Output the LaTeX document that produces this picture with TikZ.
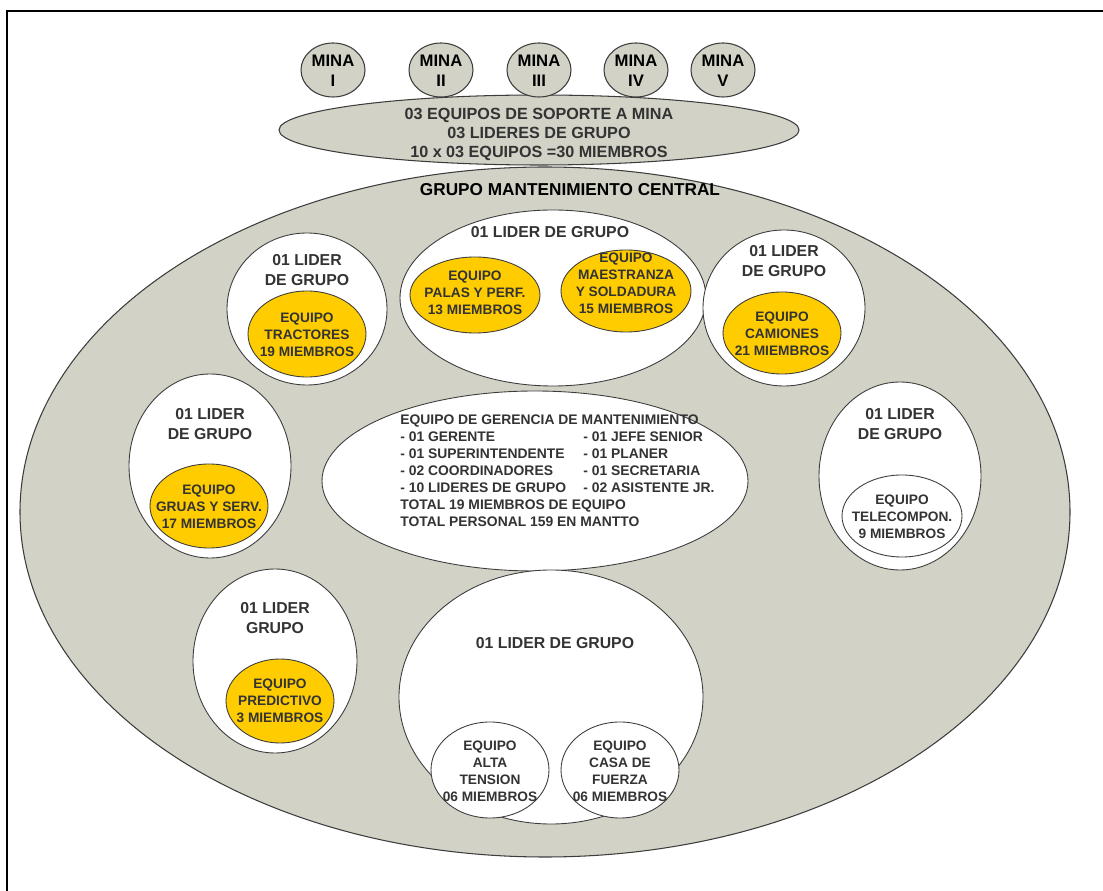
\documentclass[tikz,border=0pt]{standalone}
\usepackage{fontspec}
\setmainfont{Liberation Sans}
\usetikzlibrary{shapes.geometric}
\definecolor{gr}{RGB}{210,210,198}
\definecolor{yl}{RGB}{255,204,0}
\definecolor{tx}{RGB}{51,51,51}
\definecolor{ln}{RGB}{60,60,60}
\begin{document}
\begin{tikzpicture}[x=0.02cm,y=-0.02cm,
 ell/.style 2 args={ellipse,minimum width=#1*0.02cm,minimum height=#2*0.02cm,inner sep=0pt,outer sep=0pt},
 greyell/.style={fill=gr,draw=ln,line width=0.6pt},
 whiteell/.style={fill=white,draw=ln,line width=0.5pt},
 yellowell/.style={fill=yl,draw=ln,line width=0.5pt},
 minatxt/.style={font=\fontsize{9.5}{11.3}\selectfont\bfseries,align=center,text=black,inner sep=0pt},
 titletxt/.style={font=\fontsize{9.8}{10.8}\selectfont\bfseries,align=center,text=black,inner sep=0pt},
 soptxt/.style={font=\fontsize{9.2}{10.8}\selectfont\bfseries,align=center,text=tx,inner sep=0pt},
 lidertxt/.style={font=\fontsize{9}{11.3}\selectfont\bfseries,align=center,text=tx,inner sep=0pt},
 eqtxt/.style={font=\fontsize{7.8}{9.7}\selectfont\bfseries,align=center,text=tx,inner sep=0pt},
 gertxt/.style={font=\fontsize{7.9}{9.65}\selectfont\bfseries,align=left,text=tx,inner sep=0pt},
 ]
\useasboundingbox (0,0) rectangle (1103,891);
\coordinate (frtr) at (1103,11);
\coordinate (frtl) at (7,11);
\coordinate (frbl) at (7,891);
\draw[line width=1.1pt] (frtr) -- (frtl) -- (frbl);

% big ellipse
\node[ell={1050}{690},greyell] (central) at (545,512) {};
\node[titletxt] (centraltitle) at (570,190) {GRUPO MANTENIMIENTO CENTRAL};

% soporte
\node[ell={520}{70},greyell] (soporte) at (539,130) {};
\node[soptxt] (soportetxt) at (539,134) {03 EQUIPOS DE SOPORTE A MINA\\03 LIDERES DE GRUPO\\10 x 03 EQUIPOS =30 MIEMBROS};

% minas
\node[ell={64}{54},greyell] (m1) at (333,70) {};
\node[ell={64}{54},greyell] (m2) at (441,70) {};
\node[ell={64}{54},greyell] (m3) at (539,70) {};
\node[ell={64}{54},greyell] (m4) at (636,70) {};
\node[ell={64}{54},greyell] (m5) at (723,70) {};
\node[minatxt] (m1t) at (333,71) {MINA\\I};
\node[minatxt] (m2t) at (441,71) {MINA\\II};
\node[minatxt] (m3t) at (539,71) {MINA\\III};
\node[minatxt] (m4t) at (636,71) {MINA\\IV};
\node[minatxt] (m5t) at (723,71) {MINA\\V};

% top middle group
\node[ell={306}{176},whiteell] (gtop) at (553,298) {};
\node[lidertxt] (gtopt) at (550,232) {01 LIDER DE GRUPO};
\node[ell={130}{76},yellowell] (palas) at (475,295) {};
\node[eqtxt] (palast) at (475,293) {EQUIPO\\PALAS Y PERF.\\13 MIEMBROS};
\node[ell={130}{82},yellowell] (maes) at (626,291) {};
\node[eqtxt] (maest) at (626,283) {EQUIPO\\MAESTRANZA\\Y SOLDADURA\\15 MIEMBROS};

% tractores
\node[ell={160}{152},whiteell] (gtrac) at (307,309) {};
\node[lidertxt] (gtract) at (307,270) {01 LIDER\\DE GRUPO};
\node[ell={118}{86},yellowell] (trac) at (307,334) {};
\node[eqtxt] (tract) at (307,335) {EQUIPO\\TRACTORES\\19 MIEMBROS};

% camiones
\node[ell={162}{156},whiteell] (gcam) at (784,308) {};
\node[lidertxt] (gcamt) at (784,261) {01 LIDER\\DE GRUPO};
\node[ell={118}{82},yellowell] (cam) at (782,333) {};
\node[eqtxt] (camt) at (782,334) {EQUIPO\\CAMIONES\\21 MIEMBROS};

% gruas
\node[ell={162}{184},whiteell] (ggru) at (210,466) {};
\node[lidertxt] (ggrut) at (210,424) {01 LIDER\\DE GRUPO};
\node[ell={118}{84},yellowell] (gru) at (209,506) {};
\node[eqtxt] (grut) at (209,507) {EQUIPO\\GRUAS Y SERV.\\17 MIEMBROS};

% gerencia
\node[ell={426}{180},whiteell] (ger) at (535,481) {};
\node[gertxt,anchor=west] (gerl) at (400,471) {EQUIPO DE GERENCIA DE MANTENIMIENTO\\- 01 GERENTE\\- 01 SUPERINTENDENTE\\- 02 COORDINADORES\\- 10 LIDERES DE GRUPO\\TOTAL 19 MIEMBROS DE EQUIPO\\TOTAL PERSONAL 159 EN MANTTO};
\node[gertxt,anchor=west] (gerr) at (583,462.5) {- 01 JEFE SENIOR\\- 01 PLANER\\- 01 SECRETARIA\\- 02 ASISTENTE JR.};

% telecompon
\node[ell={162}{188},whiteell] (gtel) at (900,476) {};
\node[lidertxt] (gtelt) at (900,424) {01 LIDER\\DE GRUPO};
\node[ell={120}{82},whiteell] (tel) at (902,516) {};
\node[eqtxt] (telt) at (902,517) {EQUIPO\\TELECOMPON.\\9 MIEMBROS};

% predictivo
\node[ell={164}{184},whiteell] (gpre) at (275,661) {};
\node[lidertxt] (gpret) at (275,618) {01 LIDER\\GRUPO};
\node[ell={108}{84},yellowell] (pre) at (280,701) {};
\node[eqtxt] (pret) at (280,701) {EQUIPO\\PREDICTIVO\\3 MIEMBROS};

% bottom group
\node[ell={304}{254},whiteell] (gbot) at (551,697) {};
\node[lidertxt] (gbott) at (555,643) {01 LIDER DE GRUPO};
\node[ell={118}{96},whiteell] (alta) at (490,770) {};
\node[eqtxt] (altat) at (490,771) {EQUIPO\\ALTA\\TENSION\\06 MIEMBROS};
\node[ell={118}{96},whiteell] (casa) at (620,770) {};
\node[eqtxt] (casat) at (620,771) {EQUIPO\\CASA DE\\FUERZA\\06 MIEMBROS};
\end{tikzpicture}
\end{document}
